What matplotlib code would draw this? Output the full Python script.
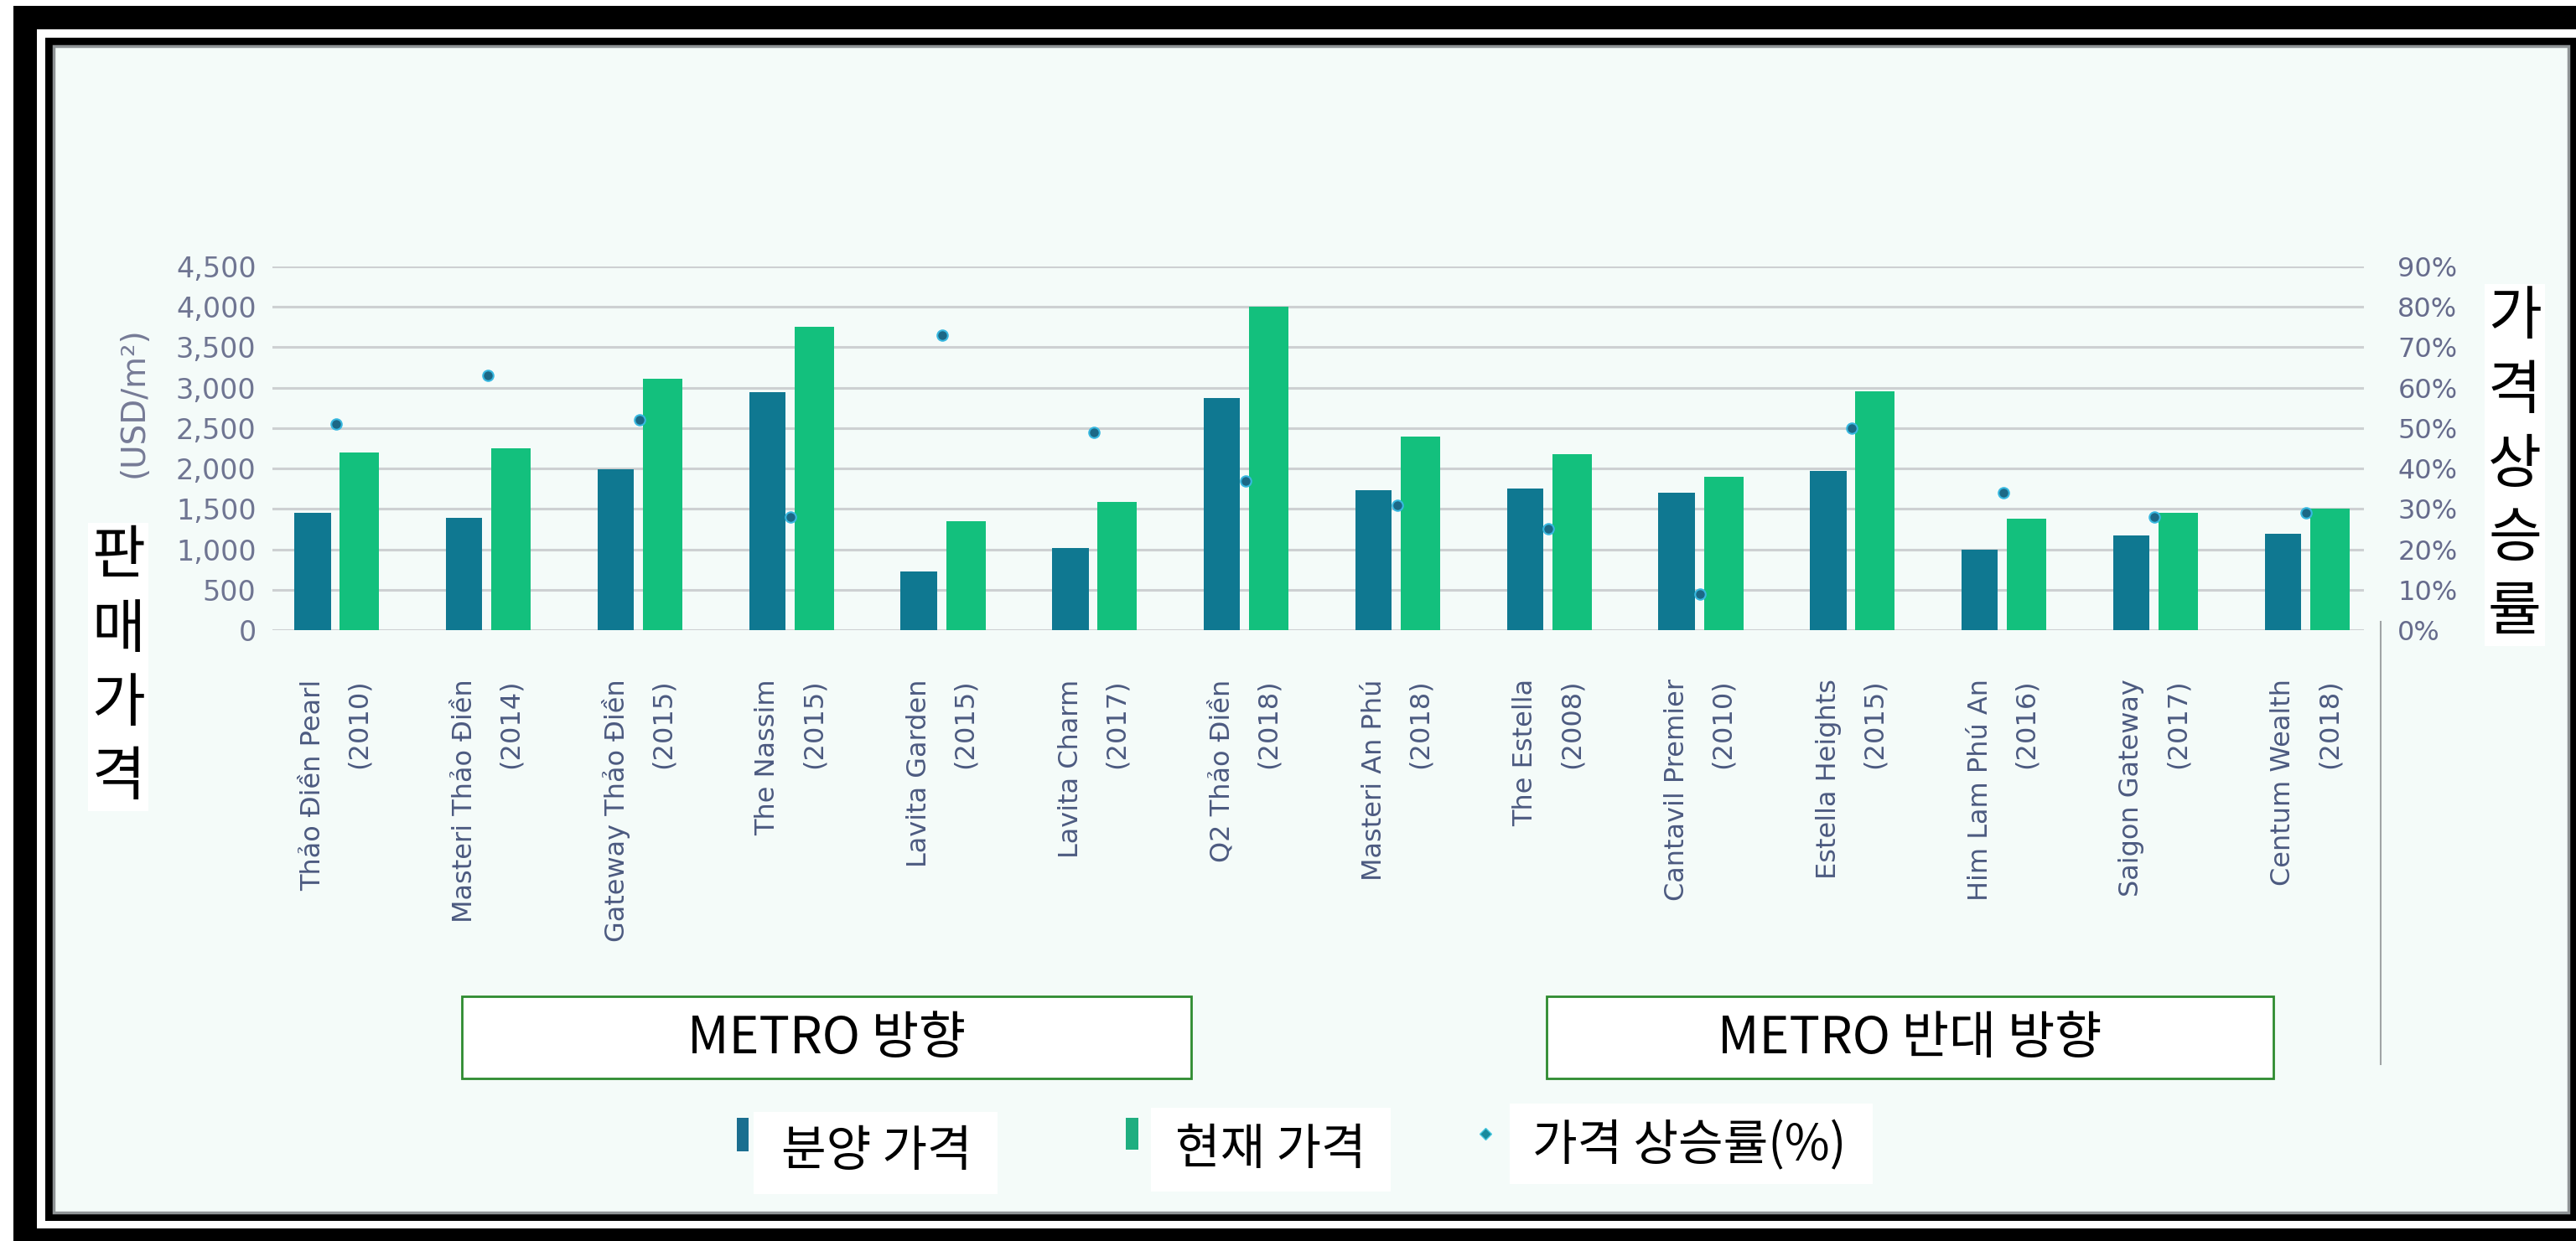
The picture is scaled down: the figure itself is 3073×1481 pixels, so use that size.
import numpy as np
import matplotlib.pyplot as plt
from matplotlib.patches import Rectangle
from matplotlib.lines import Line2D
from matplotlib.ticker import FuncFormatter

projects = ['Thảo Điền Pearl', 'Masteri Thảo Điền', 'Gateway Thảo Điền', 'The Nassim',
            'Lavita Garden', 'Lavita Charm', 'Q2 Thảo Điền', 'Masteri An Phú',
            'The Estella', 'Cantavil Premier', 'Estella Heights', 'Him Lam Phú An',
            'Saigon Gateway', 'Centum Wealth']
years = [2010, 2014, 2015, 2015, 2015, 2017, 2018, 2018, 2008, 2010, 2015, 2016, 2017, 2018]
launch_price = [1450, 1390, 1990, 2940, 730, 1020, 2870, 1730, 1750, 1700, 1970, 1000, 1170, 1190]
current_price = [2200, 2250, 3110, 3750, 1350, 1590, 4000, 2390, 2180, 1900, 2960, 1380, 1450, 1500]
price_rise = [51, 63, 52, 28, 73, 49, 37, 31, 25, 9, 50, 34, 28, 29]
price_ticks = list(range(0, 5000, 500))
rise_ticks = list(range(0, 100, 10))

KR = 'Noto Sans CJK KR'
W, H = 3073, 1481

fig = plt.figure(figsize=(W / 100, H / 100), dpi=100)
fig.patch.set_facecolor('white')


def box(x0, y0, x1, y1, fc, ec='none', lw=0, z=-10):
    # pixel box (top-left origin) -> figure fraction
    r = Rectangle((x0 / W, 1 - y1 / H), (x1 - x0) / W, (y1 - y0) / H,
                  transform=fig.transFigure, fc=fc, ec=ec, lw=lw, zorder=z)
    fig.add_artist(r)
    return r


# photo frame
box(16, 7, W + 5, H + 5, 'black', z=-30)
box(44, 35, W + 5, 1466, 'white', z=-29)
box(54, 45, W + 5, 1457, 'black', z=-28)
box(64, 55, 3064, 1447, '#f4fbf9', ec='#8f9496', lw=2.5, z=-27)

# main chart
ax = fig.add_axes([325 / W, 1 - 752 / H, (2820 - 325) / W, (752 - 318) / H])
ax.set_facecolor('none')
x = np.arange(len(projects))
ax.bar(x - 0.155, launch_price, 0.24, color='#0f7891', zorder=2)
ax.bar(x + 0.155, current_price, 0.26, color='#13c07d', zorder=2)
ax.set_xlim(-0.42, len(projects) - 0.62)
ax.set_ylim(0, 4500)
ax.set_yticks(price_ticks)
ax.yaxis.set_major_formatter(FuncFormatter(lambda v, p: f'{int(v):,}'))
ax.yaxis.grid(True, color='#cdd0d2', lw=2.2)
ax.set_axisbelow(True)
ax.tick_params(axis='y', length=0, pad=14, labelsize=24, labelcolor='#6f7592')
ax.set_xticks(x)
ax.set_xticklabels([f'{p}\n({y})' for p, y in zip(projects, years)],
                   rotation=90, ha='center', va='top', multialignment='right',
                   linespacing=2.0, fontsize=23, color='#4c5a80')
ax.tick_params(axis='x', length=0, pad=42)
for s in ax.spines.values():
    s.set_visible(False)

ax2 = ax.twinx()
ax2.plot(x, price_rise, 'o', ls='none', ms=9, color='#1c6886',
         mec='#38b8e0', mew=1.5, zorder=5)
ax2.set_ylim(0, 90)
ax2.set_yticks(rise_ticks)
ax2.yaxis.set_major_formatter(FuncFormatter(lambda v, p: f'{int(v)}%'))
ax2.tick_params(axis='y', length=0, pad=29, labelsize=23, labelcolor='#666b8c')
for s in ax2.spines.values():
    s.set_visible(False)

fig.text(160 / W, 1 - 480 / H, '(USD/m²)', rotation=90, ha='center', va='center',
         fontsize=28, color='#767b96')
fig.add_artist(Line2D([2840 / W, 2840 / W], [1 - 742 / H, 1 - 1270 / H],
                      transform=fig.transFigure, color='#a0a4a6', lw=1.5))

# overlaid korean labels
fig.text(141 / W, 1 - 796 / H, '판\n매\n가\n격', family=KR, fontsize=50,
         ha='center', va='center', linespacing=1.3,
         bbox=dict(fc='white', ec='none', pad=3))
fig.text(3000 / W, 1 - 555 / H, '가\n격\n상\n승\n률', family=KR, fontsize=50,
         ha='center', va='center', linespacing=1.3,
         bbox=dict(fc='white', ec='none', pad=3))

for (x0, x1), label in [((551, 1421), 'METRO 방향'), ((1845, 2712), 'METRO 반대 방향')]:
    box(x0, 1189, x1, 1287, 'white', ec='#2e8b30', lw=2, z=2)
    fig.text((x0 + x1) / 2 / W, 1 - 1240 / H, label, family=KR, fontsize=44,
             ha='center', va='center', zorder=3)

# legend
box(879, 1334, 893, 1374, '#1b6e90', z=2)
box(899, 1327, 1190, 1425, 'white', z=2)
fig.text(1046 / W, 1 - 1374 / H, '분양 가격', family=KR, fontsize=42,
         ha='center', va='center', zorder=3)
box(1343, 1334, 1358, 1372, '#1fae80', z=2)
box(1373, 1322, 1659, 1422, 'white', z=2)
fig.text(1516 / W, 1 - 1372 / H, '현재 가격', family=KR, fontsize=42,
         ha='center', va='center', zorder=3)
fig.add_artist(Line2D([1772 / W], [1 - 1353 / H], marker='D', ms=7, color='#168a9c',
                      mec='#48c8e0', transform=fig.transFigure))
box(1801, 1317, 2234, 1413, 'white', z=2)
fig.text(2015 / W, 1 - 1368 / H, '가격 상승률(%)', family=KR, fontsize=42,
         ha='center', va='center', zorder=3)

fig.savefig('out.png', dpi=100)
